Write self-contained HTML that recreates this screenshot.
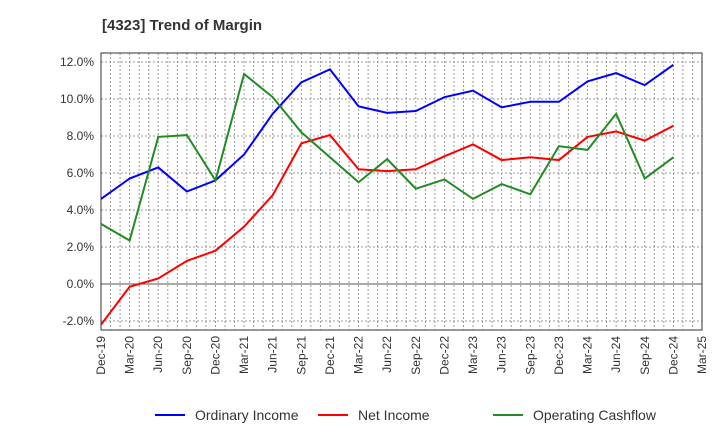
<!DOCTYPE html>
<html><head><meta charset="utf-8"><style>
body{margin:0;background:#fff;font-family:"Liberation Sans",sans-serif;}
svg text{font-family:"Liberation Sans",sans-serif;}
</style></head><body>
<svg id="chart" width="720" height="440" xmlns="http://www.w3.org/2000/svg">
<text x="102" y="30" font-size="15" font-weight="bold" fill="#333">[4323]  Trend of Margin</text>
<g id="grid"></g><g id="axes"></g><g id="series"></g>
<g id="legend"></g>
</svg>
<script>
const xLabels=["Dec-19","Mar-20","Jun-20","Sep-20","Dec-20","Mar-21","Jun-21","Sep-21","Dec-21","Mar-22","Jun-22","Sep-22","Dec-22","Mar-23","Jun-23","Sep-23","Dec-23","Mar-24","Jun-24","Sep-24","Dec-24","Mar-25"];
const yTicks=[-2,0,2,4,6,8,10,12];
const ordinaryIncome=[4.6,5.7,6.3,5.0,5.6,7.0,9.2,10.9,11.6,9.6,9.25,9.35,10.1,10.45,9.55,9.85,9.85,10.95,11.4,10.75,11.85];
const netIncome=[-2.2,-0.15,0.3,1.25,1.8,3.1,4.8,7.6,8.05,6.2,6.1,6.2,6.9,7.55,6.7,6.85,6.7,7.95,8.25,7.75,8.55];
const operatingCashflow=[3.25,2.35,7.95,8.05,5.6,11.35,10.1,8.2,6.85,5.5,6.75,5.15,5.65,4.6,5.4,4.85,7.45,7.25,9.2,5.7,6.85];
const L=101,R=702,T=53,B=330;
const xs=i=>L+i*(R-L)/(xLabels.length-1);
const ys=v=>284-v*18.5;
const NS="http://www.w3.org/2000/svg";
function mk(tag,parent,attrs){const e=document.createElementNS(NS,tag);for(const k in attrs)e.setAttribute(k,attrs[k]);document.getElementById(parent).appendChild(e);return e;}
// vertical monthly grid
for(let m=1;m<(xLabels.length-1)*3;m++){const x=L+m*(R-L)/((xLabels.length-1)*3);
const g=mk('line','grid',{x1:x,x2:x,y1:T,y2:B,stroke:'#999','stroke-dasharray':'2,2','stroke-width':1});

}
yTicks.forEach(v=>{const y=ys(v);
const g=mk('line','grid',{x1:L,x2:R,y1:y,y2:y,stroke:v===0?'#555':'#999','stroke-dasharray':v===0?'':'2,2','stroke-width':1});


const t=mk('text','axes',{x:L-7,y:y+4,'font-size':12,'text-anchor':'end',fill:'#333'});


t.textContent=v.toFixed(1)+'%';});
const fr=mk('rect','axes',{x:L,y:T,width:R-L,height:B-T,fill:'none',stroke:'#333','stroke-width':1});


xLabels.forEach((s,i)=>{const x=xs(i);
const t=mk('text','axes',{x:x+4,y:B+6,'font-size':12,'text-anchor':'end',fill:'#333',transform:`rotate(-90 ${x+4} ${B+6})`});


t.textContent=s;});
const series=[[ordinaryIncome,'#0000ff','ordinary-income-line','Ordinary Income'],[netIncome,'#ff0000','net-income-line','Net Income'],[operatingCashflow,'#228b22','operating-cashflow-line','Operating Cashflow']];
series.forEach(([d,c,n])=>{const p=mk('polyline','series',{points:d.map((v,i)=>xs(i)+','+ys(v)).join(' '),fill:'none',stroke:c,'stroke-width':2});

});
const lx=[155,318,493];
series.forEach(([d,c,n,lab],k)=>{
const l=mk('line','legend',{x1:lx[k],x2:lx[k]+30,y1:415,y2:415,stroke:c,'stroke-width':2});


const t=mk('text','legend',{x:lx[k]+40,y:420,'font-size':14,fill:'#333'});


t.textContent=lab;});
</script>
</body></html>
